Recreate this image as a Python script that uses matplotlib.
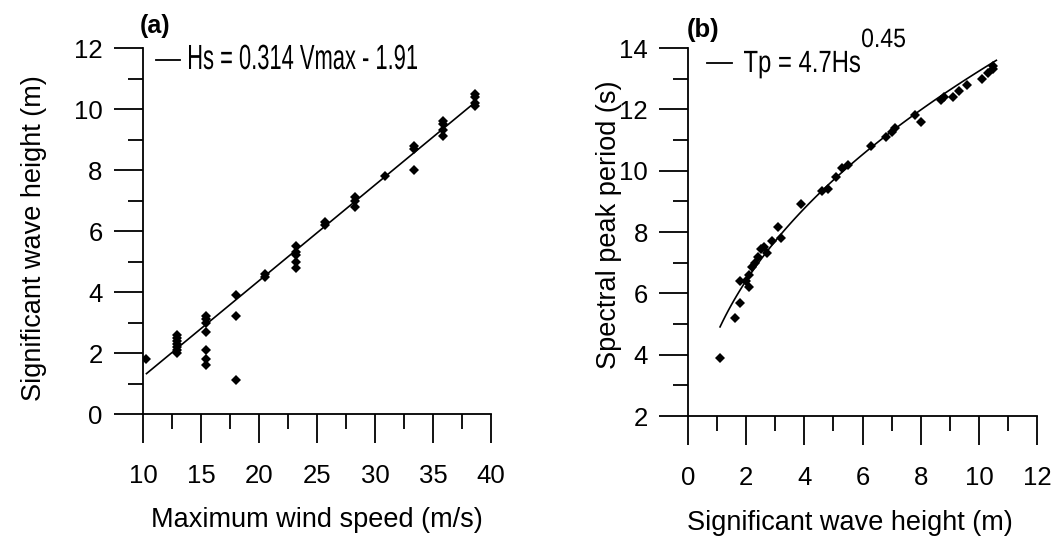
import matplotlib
matplotlib.use("Agg")
import matplotlib.pyplot as plt
import numpy as np
from matplotlib.ticker import MultipleLocator
from matplotlib.lines import Line2D
from matplotlib.textpath import TextPath
from matplotlib.patches import PathPatch
from matplotlib.font_manager import FontProperties
from matplotlib.transforms import Affine2D, IdentityTransform

# (a) maximum wind speed vs significant wave height
vmax = [10.3,
        12.9, 12.9, 12.9, 12.9, 12.9, 12.9, 12.9,
        15.4, 15.4, 15.4, 15.4, 15.4, 15.4, 15.4,
        18.0, 18.0, 18.0,
        20.5, 20.5,
        23.2, 23.2, 23.2, 23.2, 23.2,
        25.7, 25.7,
        28.3, 28.3, 28.3,
        30.9,
        33.4, 33.4, 33.4,
        35.9, 35.9, 35.9, 35.9,
        38.6, 38.6, 38.6, 38.6]
hs_a = [1.8,
        2.0, 2.1, 2.2, 2.3, 2.4, 2.5, 2.6,
        3.2, 3.1, 3.0, 2.7, 2.1, 1.8, 1.6,
        3.9, 3.2, 1.1,
        4.5, 4.6,
        5.5, 5.3, 5.2, 5.0, 4.8,
        6.3, 6.2,
        7.1, 7.0, 6.8,
        7.8,
        8.8, 8.7, 8.0,
        9.6, 9.5, 9.3, 9.1,
        10.5, 10.4, 10.2, 10.1]
fit_a = (0.314, -1.91)
vrange = (10.3, 38.6)

# (b) significant wave height vs spectral peak period
hs_b = [1.1, 1.6, 1.8, 1.8, 2.0, 2.1, 2.1, 2.2, 2.3, 2.4, 2.5, 2.6, 2.7,
        2.9, 3.1, 3.2, 3.9, 4.6, 4.8, 5.1, 5.3, 5.5, 6.3, 6.8, 7.0, 7.1,
        7.8, 8.0, 8.7, 8.8, 9.1, 9.3, 9.6, 10.1, 10.3, 10.5, 10.5]
tp_b = [3.9, 5.2, 5.7, 6.4, 6.4, 6.2, 6.6, 6.85, 7.0, 7.2, 7.45, 7.5, 7.3,
        7.7, 8.15, 7.8, 8.9, 9.35, 9.4, 9.8, 10.1, 10.2, 10.8, 11.1, 11.25,
        11.4, 11.8, 11.6, 12.3, 12.4, 12.4, 12.6, 12.8, 13.0, 13.2, 13.4, 13.3]
fit_b = (4.7, 0.45)
hrange = (1.1, 10.6)

plt.rcParams["font.family"] = ["Liberation Sans", "DejaVu Sans"]

W, H = 1059, 537
fig = plt.figure(figsize=(W / 100, H / 100), dpi=100)
ax1 = fig.add_axes([0.135, 0.229, 0.3286, 0.6816])
ax2 = fig.add_axes([0.6497, 0.2253, 0.3296, 0.6853])


def style(ax):
    for s in ["top", "right"]:
        ax.spines[s].set_visible(False)
    for s in ["left", "bottom"]:
        ax.spines[s].set_linewidth(1.3)
    ax.tick_params(which="major", direction="out", length=21, width=1.3, labelsize=18.5)
    ax.tick_params(which="minor", direction="out", length=11, width=1.3)
    ax.tick_params(axis="x", which="major", pad=15)
    ax.tick_params(axis="y", which="major", pad=8)


def narrow_text(s, left, top, width, cap):
    # condensed text: glyph outlines squeezed to the given box (pixels from top-left)
    tp = TextPath((0, 0), s, size=100, prop=FontProperties(family="Liberation Sans"))
    ext = tp.get_extents()
    sx = width / ext.width
    sy = cap / 71.6
    tr = Affine2D().translate(-ext.x0, 0).scale(sx, sy).translate(left, H - top - cap)
    fig.add_artist(PathPatch(tp, transform=tr, facecolor="black", edgecolor="none"))


def key_line(x0, x1, y):
    fig.add_artist(Line2D([x0, x1], [H - y, H - y], color="black", lw=1.3,
                          transform=IdentityTransform()))


# panel a
v = np.linspace(*vrange, 50)
ax1.plot(v, fit_a[0] * v + fit_a[1], color="black", lw=1.2)
ax1.plot(vmax, hs_a, "D", color="black", ms=5.5, mew=0)
ax1.set_xlim(10, 40)
ax1.set_ylim(0, 12)
ax1.xaxis.set_major_locator(MultipleLocator(5))
ax1.xaxis.set_minor_locator(MultipleLocator(2.5))
ax1.yaxis.set_major_locator(MultipleLocator(2))
ax1.yaxis.set_minor_locator(MultipleLocator(1))
style(ax1)
ax1.set_xlabel("Maximum wind speed (m/s)", fontsize=19.5)
ax1.set_ylabel("Significant wave height (m)", fontsize=19.5)
ax1.xaxis.set_label_coords(0.5, -0.255)
ax1.yaxis.set_label_coords(-0.275, 0.48)
ax1.text(-0.01, 1.06, "(a)", transform=ax1.transAxes, fontsize=18,
         fontweight="bold", va="center", ha="left")
key_line(156, 180, 60)
narrow_text("Hs = 0.314 Vmax - 1.91", 189, 44, 228, 25)

# panel b
h = np.linspace(*hrange, 100)
ax2.plot(h, fit_b[0] * h ** fit_b[1], color="black", lw=1.2)
ax2.plot(hs_b, tp_b, "D", color="black", ms=5.5, mew=0)
ax2.set_xlim(0, 12)
ax2.set_ylim(2, 14)
ax2.xaxis.set_major_locator(MultipleLocator(2))
ax2.xaxis.set_minor_locator(MultipleLocator(1))
ax2.yaxis.set_major_locator(MultipleLocator(2))
ax2.yaxis.set_minor_locator(MultipleLocator(1))
style(ax2)
ax2.set_xlabel("Significant wave height (m)", fontsize=19.5)
ax2.set_ylabel("Spectral peak period (s)", fontsize=19.5)
ax2.xaxis.set_label_coords(0.465, -0.255)
ax2.yaxis.set_label_coords(-0.19, 0.52)
ax2.text(-0.005, 1.05, "(b)", transform=ax2.transAxes, fontsize=18.5,
         fontweight="bold", va="center", ha="left")
key_line(707, 732, 63)
narrow_text("Tp = 4.7Hs", 744, 50, 116, 22)
narrow_text("0.45", 862, 28, 43, 19)

fig.savefig("out.png", dpi=100)
